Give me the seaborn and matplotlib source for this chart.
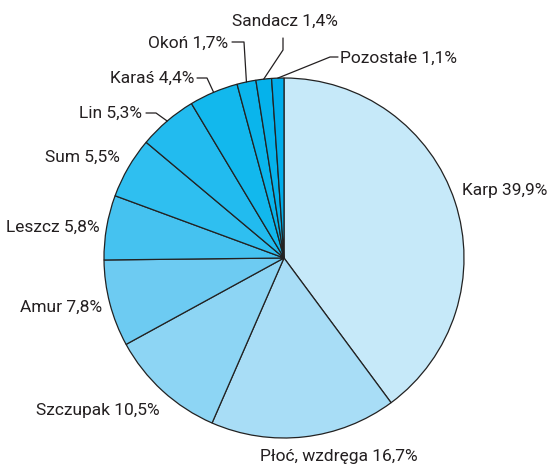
import numpy as np
import matplotlib
matplotlib.use('Agg')
import matplotlib.pyplot as plt
import seaborn as sns

# Data
species = ['Karp', 'Płoć, wzdręga', 'Szczupak', 'Amur', 'Leszcz', 'Sum', 'Lin',
           'Karaś', 'Okoń', 'Sandacz', 'Pozostałe']
shares = [39.9, 16.7, 10.5, 7.8, 5.8, 5.5, 5.3, 4.4, 1.7, 1.4, 1.1]
share_labels = ['39,9%', '16,7%', '10,5%', '7,8%', '5,8%', '5,5%', '5,3%',
                '4,4%', '1,7%', '1,4%', '1,1%']
colors = ['#c6e9f9', '#a8ddf6', '#8dd5f4', '#6dcbf2', '#45c2f0', '#2fbff0',
          '#22bbef', '#12b8ed', '#0ab5ec', '#05b2eb', '#00adea']

sns.set_theme(style='white')
plt.rcParams['font.family'] = ['Roboto', 'Liberation Sans', 'DejaVu Sans']

W, H = 550, 466
CX, CY, R = 284, 258, 180  # pie centre / radius in pixels

fig = plt.figure(figsize=(5.5, 4.66), dpi=100)
ax = fig.add_axes([0, 0, 1, 1])

wedges, _ = ax.pie(shares, colors=colors, startangle=90, counterclock=False,
                   radius=1, normalize=True,
                   wedgeprops=dict(edgecolor='#222222', linewidth=0.9))
ax.set_aspect('auto')
ax.set_xlim(-CX / R, (W - CX) / R)
ax.set_ylim(-(H - CY) / R, CY / R)
ax.axis('off')


def px(x, y):
    return (x - CX) / R, (CY - y) / R


# label layout: (text x, text y, ha, elbow points or None)
layout = {
    'Karp': (462, 190, 'left', None),
    'Płoć, wzdręga': (260, 456, 'left', None),
    'Szczupak': (36, 411, 'left', None),
    'Amur': (102, 307, 'right', None),
    'Leszcz': (100, 227, 'right', None),
    'Sum': (120, 157, 'right', None),
    'Lin': (142, 113, 'right', [(146, 113), (156, 113)]),
    'Karaś': (194, 78, 'right', [(197, 78), (207, 78)]),
    'Okoń': (228, 43, 'right', [(232, 42), (244, 42)]),
    'Sandacz': (232, 21, 'left', [(283, 38), (283, 50)]),
    'Pozostałe': (340, 58, 'left', [(338, 57), (330, 57)]),
}

for w, name, lab in zip(wedges, species, share_labels):
    tx, ty, ha, elbow = layout[name]
    ax.text(*px(tx, ty), f'{name} {lab}', ha=ha, va='center', fontsize=12.5,
            color='#231f20')
    if elbow is not None:
        ang = np.deg2rad((w.theta1 + w.theta2) / 2)
        edge = (np.cos(ang), np.sin(ang))
        pts = [px(*p) for p in elbow] + [edge]
        ax.plot([p[0] for p in pts], [p[1] for p in pts], color='#231f20', lw=0.9)

fig.savefig('out.png', dpi=100)
